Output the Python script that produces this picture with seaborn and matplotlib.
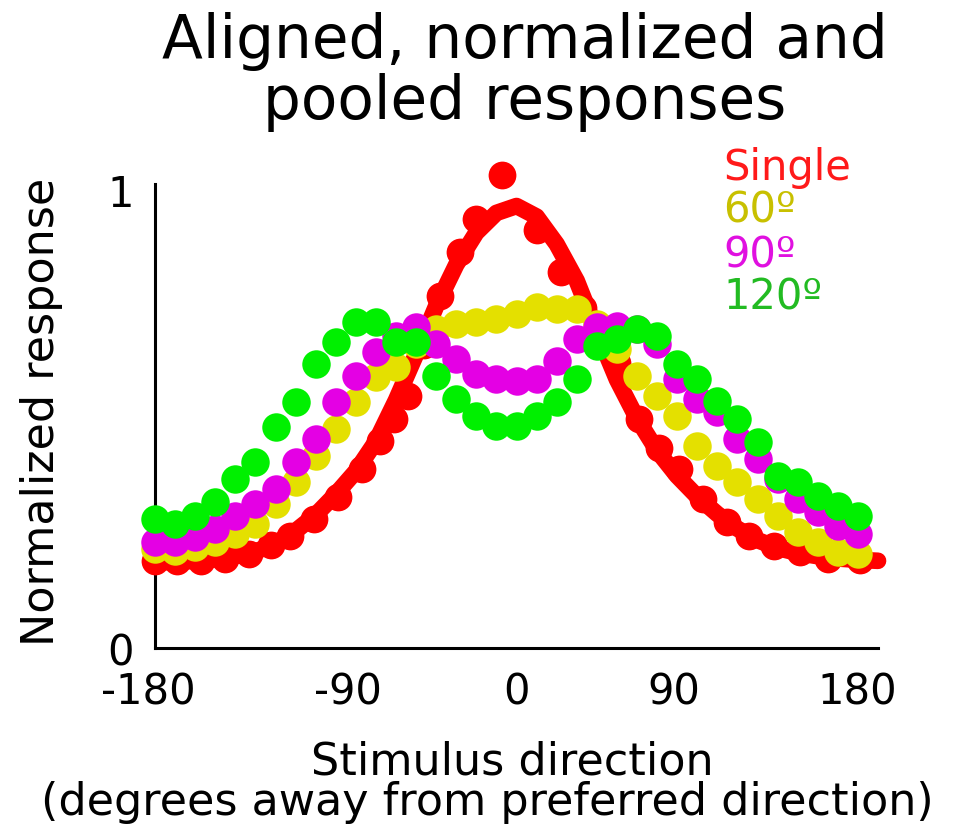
import matplotlib
matplotlib.use("Agg")
import matplotlib.pyplot as plt
import matplotlib.transforms as mtransforms
import numpy as np
import pandas as pd
import seaborn as sns

# Stimulus directions (degrees away from preferred direction) for pooled data
directions = [-180, -170, -160, -150, -140, -130, -120, -110, -100, -90,
              -80, -70, -60, -50, -40, -30, -20, -10, 0, 10,
              20, 30, 40, 50, 60, 70, 80, 90, 100, 110,
              120, 130, 140, 150, 160, 170]

resp_60 = [0.216, 0.211, 0.220, 0.231, 0.248, 0.270, 0.314, 0.362, 0.418, 0.477,
           0.536, 0.590, 0.612, 0.662, 0.695, 0.706, 0.710, 0.717, 0.728, 0.742,
           0.739, 0.739, 0.706, 0.651, 0.593, 0.549, 0.505, 0.440, 0.397, 0.362,
           0.325, 0.288, 0.253, 0.231, 0.209, 0.205]

resp_90 = [0.231, 0.231, 0.242, 0.259, 0.288, 0.314, 0.346, 0.405, 0.455, 0.536,
           0.593, 0.645, 0.680, 0.699, 0.662, 0.630, 0.597, 0.586, 0.582, 0.586,
           0.625, 0.673, 0.699, 0.702, 0.695, 0.662, 0.586, 0.542, 0.514, 0.455,
           0.412, 0.368, 0.325, 0.296, 0.266, 0.248]

resp_120 = [0.281, 0.270, 0.288, 0.318, 0.368, 0.405, 0.481, 0.536, 0.619, 0.667,
            0.710, 0.710, 0.667, 0.667, 0.593, 0.542, 0.505, 0.484, 0.484, 0.505,
            0.536, 0.586, 0.658, 0.673, 0.695, 0.680, 0.619, 0.586, 0.538, 0.499,
            0.449, 0.375, 0.362, 0.332, 0.310, 0.288]

# Single-stimulus responses
single_dir = [-180, -169, -157, -145, -133, -122, -113, -101, -89, -77,
              -68, -61, -54, -46, -38, -28, -20, -7, 10, 22,
              33, 42, 50, 61, 71, 81, 93, 105, 116, 128,
              141, 155, 171]
single_resp = [0.190, 0.190, 0.190, 0.195, 0.205, 0.225, 0.245, 0.280, 0.330, 0.390,
               0.450, 0.500, 0.550, 0.660, 0.767, 0.863, 0.935, 1.030, 0.910, 0.820,
               0.740, 0.680, 0.620, 0.500, 0.435, 0.390, 0.325, 0.275, 0.245, 0.222,
               0.209, 0.194, 0.192]

# Fitted tuning curve for single stimuli
fit_dir = [-180, -170, -160, -150, -140, -130, -120, -110, -100, -90,
           -80, -70, -60, -50, -40, -30, -20, -10, 0, 10,
           20, 30, 40, 50, 60, 70, 80, 90, 100, 110,
           120, 130, 140, 150, 160, 170, 180]
fit_resp = [0.187, 0.187, 0.190, 0.193, 0.200, 0.210, 0.228, 0.255, 0.290, 0.335,
            0.385, 0.450, 0.540, 0.640, 0.745, 0.835, 0.905, 0.948, 0.963, 0.940,
            0.880, 0.800, 0.690, 0.585, 0.500, 0.430, 0.375, 0.330, 0.292, 0.260,
            0.235, 0.218, 0.207, 0.200, 0.195, 0.192, 0.190]

x_ticks = [-180, -90, 0, 90, 180]
x_ticklabels = ["-180", "-90", "0", "90", "180"]
y_ticks = [0, 1]
y_ticklabels = ["0", "1"]

legend_labels = ["Single", "60º", "90º", "120º"]

sns.set_style("white")
plt.rcParams["font.family"] = ["DejaVu Sans"]

W, H = 965, 829
fig = plt.figure(figsize=(W / 100, H / 100), dpi=100)
ax = fig.add_axes([155 / W, 1 - 649 / H, 723 / W, (649 - 185) / H])

red = "#ff0000"
yellow = "#e4e000"
magenta = "#e400e4"
green = "#00f000"

fit_df = pd.DataFrame({"direction": fit_dir, "response": fit_resp})
sns.lineplot(data=fit_df, x="direction", y="response", ax=ax, color=red,
             linewidth=12, solid_capstyle="round", zorder=2, clip_on=False)

single_df = pd.DataFrame({"direction": single_dir, "response": single_resp})
sns.scatterplot(data=single_df, x="direction", y="response", ax=ax, color=red,
                s=400, linewidth=0, zorder=3, clip_on=False)

for values, col, z in [(resp_60, yellow, 4), (resp_90, magenta, 5), (resp_120, green, 6)]:
    df = pd.DataFrame({"direction": directions, "response": values})
    sns.scatterplot(data=df, x="direction", y="response", ax=ax, color=col,
                    s=420, linewidth=0, zorder=z, clip_on=False)

ax.set_xlim(-180, 180)
ax.set_ylim(0, 1.011)
ax.set_xticks(x_ticks)
ax.set_xticklabels(x_ticklabels)
ax.set_yticks(y_ticks)
ax.set_yticklabels(y_ticklabels)
ax.tick_params(axis="both", length=0, labelsize=30, colors="black")
ax.tick_params(axis="x", pad=16)
ax.tick_params(axis="y", pad=15)
ax.set_xlabel("")
ax.set_ylabel("")
for side in ["top", "right"]:
    ax.spines[side].set_visible(False)
for side in ["left", "bottom"]:
    ax.spines[side].set_color("black")
    ax.spines[side].set_linewidth(2.2)
ax.grid(False)

# Hand-placed nudges of the x tick labels (in pixels)
label_nudges = [-7, 12, 0, -23, -21]
for lab, dx in zip(ax.get_xticklabels(), label_nudges):
    lab.set_transform(lab.get_transform() +
                      mtransforms.ScaledTranslation(dx / 100, 0, fig.dpi_scale_trans))

# Title
fig.text(0.544, 1 - 58 / H, "Aligned, normalized and", ha="center", va="baseline",
         fontsize=43, color="black")
fig.text(0.544, 1 - 119 / H, "pooled responses", ha="center", va="baseline",
         fontsize=43, color="black")

# Axis labels
fig.text(42 / W, 1 - 412 / H, "Normalized response", rotation=90, ha="center",
         va="center", fontsize=32, color="black")
fig.text(512 / W, 1 - 775 / H, "Stimulus direction", ha="center", va="baseline",
         fontsize=32, color="black")
fig.text(487 / W, 1 - 815 / H, "(degrees away from preferred direction)",
         ha="center", va="baseline", fontsize=32, color="black")

# Colour-coded legend
legend_colors = ["#ff1a1a", "#c8c000", "#e010e0", "#22bb22"]
legend_baselines = [180, 223, 267, 310]
for lab, col, yb in zip(legend_labels, legend_colors, legend_baselines):
    fig.text(723 / W, 1 - yb / H, lab, ha="left", va="baseline", fontsize=30, color=col)

fig.savefig("out.png", dpi=100, facecolor="white")
